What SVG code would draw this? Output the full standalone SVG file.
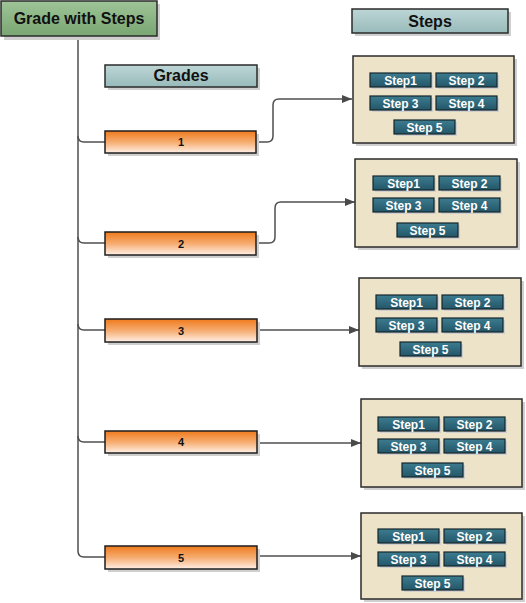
<svg xmlns="http://www.w3.org/2000/svg" width="526" height="603" viewBox="0 0 526 603">
<defs>
<linearGradient id="gGreen" x1="0" y1="0" x2="0" y2="1"><stop offset="0" stop-color="#9ec497"/><stop offset="1" stop-color="#79a672"/></linearGradient>
<linearGradient id="gHead" x1="0" y1="0" x2="0" y2="1"><stop offset="0" stop-color="#bdd6d6"/><stop offset="1" stop-color="#98baba"/></linearGradient>
<linearGradient id="gOrange" x1="0" y1="0" x2="0" y2="1"><stop offset="0" stop-color="#ee7a1c"/><stop offset="0.5" stop-color="#f6ac70"/><stop offset="1" stop-color="#fff0e6"/></linearGradient>
<linearGradient id="gBtn" x1="0" y1="0" x2="0" y2="1"><stop offset="0" stop-color="#3d7c90"/><stop offset="1" stop-color="#235668"/></linearGradient>
<marker id="arr" viewBox="0 0 10 8" refX="10" refY="4" markerWidth="10" markerHeight="8" markerUnits="userSpaceOnUse" orient="auto"><path d="M0,0 L10,4 L0,8 Z" fill="#4a4a4a"/></marker>
</defs>
<style>
.shadow{fill:#cfcfcf}
.title{fill:url(#gGreen);stroke:#2b2b2b;stroke-width:1.5}
.head{fill:url(#gHead);stroke:#2b2b2b;stroke-width:1.5}
.grade{fill:url(#gOrange);stroke:#1e1e1e;stroke-width:1.5}
.cont{fill:#ede3c9;stroke:#2b2b2b;stroke-width:1.5}
.btn{fill:url(#gBtn);stroke:#15252b;stroke-width:1.2}
.t{font-family:"Liberation Sans",Arial,sans-serif;font-weight:bold;text-anchor:middle}
.big{font-size:16px;fill:#111}
.num{font-size:11px;fill:#111}
.bt{font-size:12px;fill:#ffffff}
.conn{fill:none;stroke:#4f4f4f;stroke-width:1.5}
</style>

<g id="connectors">
<path class="conn" d="M78,36 L78,551 Q78,557 84,557 L105,557"/>
<path class="conn" d="M78,136 Q78,142 84,142 L105,142"/>
<path class="conn" d="M78,237 Q78,243 84,243 L105,243"/>
<path class="conn" d="M78,324 Q78,330 84,330 L105,330"/>
<path class="conn" d="M78,436 Q78,442 84,442 L105,442"/>
<path class="conn" d="M257,142 L267,142 Q273,142 273,136 L273,105 Q273,99 279,99 L352,99" marker-end="url(#arr)"/>
<path class="conn" d="M257,243 L269,243 Q275,243 275,237 L275,208 Q275,202 281,202 L355,202" marker-end="url(#arr)"/>
<path class="conn" d="M257,330 L359,330" marker-end="url(#arr)"/>
<path class="conn" d="M257,443 L361,443" marker-end="url(#arr)"/>
<path class="conn" d="M257,556 L361,556" marker-end="url(#arr)"/>
</g>

<g id="title">
<rect class="shadow" x="4" y="4" width="156" height="36"/>
<rect class="title" x="1" y="1" width="156" height="35"/>
<text class="t big" x="79" y="24">Grade with Steps</text>
</g>

<g id="grades-header">
<rect class="shadow" x="108" y="68" width="152" height="22"/>
<rect class="head" x="105" y="65" width="152" height="22"/>
<text class="t big" x="181" y="81">Grades</text>
</g>

<g id="steps-header">
<rect class="shadow" x="355" y="12" width="156" height="24"/>
<rect class="head" x="352" y="9" width="156" height="24"/>
<text class="t big" x="430" y="27">Steps</text>
</g>

<g id="grade1">
<rect class="shadow" x="108" y="134" width="151" height="22"/>
<rect class="grade" x="105" y="131" width="151" height="22"/>
<text class="t num" x="181" y="146">1</text>
</g>
<g id="grade2">
<rect class="shadow" x="108" y="235" width="151" height="23"/>
<rect class="grade" x="105" y="232" width="151" height="23"/>
<text class="t num" x="181" y="247.5">2</text>
</g>
<g id="grade3">
<rect class="shadow" x="108" y="322" width="152" height="23"/>
<rect class="grade" x="105" y="319" width="152" height="23"/>
<text class="t num" x="181" y="334.5">3</text>
</g>
<g id="grade4">
<rect class="shadow" x="108" y="434" width="152" height="22"/>
<rect class="grade" x="105" y="431" width="152" height="22"/>
<text class="t num" x="181" y="446">4</text>
</g>
<g id="grade5">
<rect class="shadow" x="108" y="549" width="152" height="23"/>
<rect class="grade" x="105" y="546" width="152" height="23"/>
<text class="t num" x="181" y="561.5">5</text>
</g>

<g id="steps1" transform="translate(353,56)">
<rect class="shadow" x="3" y="3" width="161" height="87"/>
<rect class="cont" x="0" y="0" width="161" height="87"/>
<rect class="shadow" x="19" y="19" width="61" height="14"/><rect class="btn" x="17" y="17" width="61" height="14"/><text class="t bt" x="47.5" y="28.5">Step1</text>
<rect class="shadow" x="85" y="19" width="61" height="14"/><rect class="btn" x="83" y="17" width="61" height="14"/><text class="t bt" x="113.5" y="28.5">Step 2</text>
<rect class="shadow" x="19" y="42" width="61" height="14"/><rect class="btn" x="17" y="40" width="61" height="14"/><text class="t bt" x="47.5" y="51.5">Step 3</text>
<rect class="shadow" x="85" y="42" width="61" height="14"/><rect class="btn" x="83" y="40" width="61" height="14"/><text class="t bt" x="113.5" y="51.5">Step 4</text>
<rect class="shadow" x="43" y="66" width="61" height="14"/><rect class="btn" x="41" y="64" width="61" height="14"/><text class="t bt" x="71.5" y="75.5">Step 5</text>
</g>

<g id="steps2" transform="translate(355,159)">
<rect class="shadow" x="3" y="3" width="162" height="88"/>
<rect class="cont" x="0" y="0" width="162" height="88"/>
<rect class="shadow" x="20" y="19" width="61" height="14"/><rect class="btn" x="18" y="17" width="61" height="14"/><text class="t bt" x="48.5" y="28.5">Step1</text>
<rect class="shadow" x="86" y="19" width="61" height="14"/><rect class="btn" x="84" y="17" width="61" height="14"/><text class="t bt" x="114.5" y="28.5">Step 2</text>
<rect class="shadow" x="20" y="41" width="61" height="14"/><rect class="btn" x="18" y="39" width="61" height="14"/><text class="t bt" x="48.5" y="50.5">Step 3</text>
<rect class="shadow" x="86" y="41" width="61" height="14"/><rect class="btn" x="84" y="39" width="61" height="14"/><text class="t bt" x="114.5" y="50.5">Step 4</text>
<rect class="shadow" x="44" y="66" width="61" height="14"/><rect class="btn" x="42" y="64" width="61" height="14"/><text class="t bt" x="72.5" y="75.5">Step 5</text>
</g>

<g id="steps3" transform="translate(359,278)">
<rect class="shadow" x="3" y="3" width="162" height="88"/>
<rect class="cont" x="0" y="0" width="162" height="88"/>
<rect class="shadow" x="19" y="19" width="61" height="14"/><rect class="btn" x="17" y="17" width="61" height="14"/><text class="t bt" x="47.5" y="28.5">Step1</text>
<rect class="shadow" x="85" y="19" width="61" height="14"/><rect class="btn" x="83" y="17" width="61" height="14"/><text class="t bt" x="113.5" y="28.5">Step 2</text>
<rect class="shadow" x="19" y="42" width="61" height="14"/><rect class="btn" x="17" y="40" width="61" height="14"/><text class="t bt" x="47.5" y="51.5">Step 3</text>
<rect class="shadow" x="85" y="42" width="61" height="14"/><rect class="btn" x="83" y="40" width="61" height="14"/><text class="t bt" x="113.5" y="51.5">Step 4</text>
<rect class="shadow" x="43" y="66" width="61" height="14"/><rect class="btn" x="41" y="64" width="61" height="14"/><text class="t bt" x="71.5" y="75.5">Step 5</text>
</g>

<g id="steps4" transform="translate(361,399)">
<rect class="shadow" x="3" y="3" width="161" height="88"/>
<rect class="cont" x="0" y="0" width="161" height="88"/>
<rect class="shadow" x="19" y="20" width="61" height="14"/><rect class="btn" x="17" y="18" width="61" height="14"/><text class="t bt" x="47.5" y="29.5">Step1</text>
<rect class="shadow" x="85" y="20" width="61" height="14"/><rect class="btn" x="83" y="18" width="61" height="14"/><text class="t bt" x="113.5" y="29.5">Step 2</text>
<rect class="shadow" x="19" y="42" width="61" height="14"/><rect class="btn" x="17" y="40" width="61" height="14"/><text class="t bt" x="47.5" y="51.5">Step 3</text>
<rect class="shadow" x="85" y="42" width="61" height="14"/><rect class="btn" x="83" y="40" width="61" height="14"/><text class="t bt" x="113.5" y="51.5">Step 4</text>
<rect class="shadow" x="43" y="66" width="61" height="14"/><rect class="btn" x="41" y="64" width="61" height="14"/><text class="t bt" x="71.5" y="75.5">Step 5</text>
</g>

<g id="steps5" transform="translate(361,513)">
<rect class="shadow" x="3" y="3" width="161" height="86"/>
<rect class="cont" x="0" y="0" width="161" height="86"/>
<rect class="shadow" x="19" y="18" width="61" height="14"/><rect class="btn" x="17" y="16" width="61" height="14"/><text class="t bt" x="47.5" y="27.5">Step1</text>
<rect class="shadow" x="85" y="18" width="61" height="14"/><rect class="btn" x="83" y="16" width="61" height="14"/><text class="t bt" x="113.5" y="27.5">Step 2</text>
<rect class="shadow" x="19" y="41" width="61" height="14"/><rect class="btn" x="17" y="39" width="61" height="14"/><text class="t bt" x="47.5" y="50.5">Step 3</text>
<rect class="shadow" x="85" y="41" width="61" height="14"/><rect class="btn" x="83" y="39" width="61" height="14"/><text class="t bt" x="113.5" y="50.5">Step 4</text>
<rect class="shadow" x="43" y="65" width="61" height="14"/><rect class="btn" x="41" y="63" width="61" height="14"/><text class="t bt" x="71.5" y="74.5">Step 5</text>
</g>
</svg>
